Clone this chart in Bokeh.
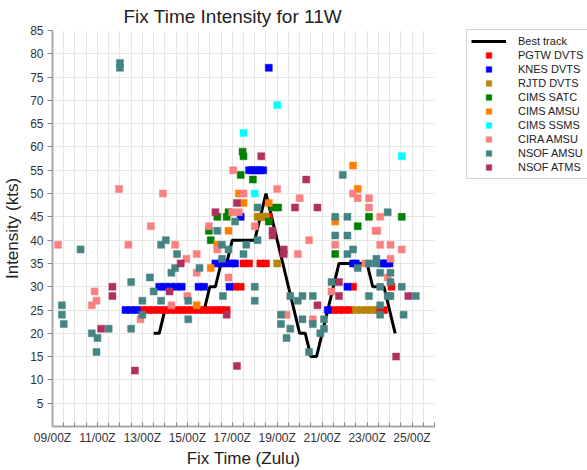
from bokeh.plotting import figure
from bokeh.models import FixedTicker, Legend, LegendItem, Range1d
from bokeh.embed import file_html
from bokeh.resources import INLINE

# ---------------- data (times as "DD/HH" Zulu, values in kts) ----------------
best_t = ["13/12", "13/18", "14/00", "14/06", "14/12", "14/18", "15/00", "15/06", "15/12", "15/18",
          "16/00", "16/06", "16/12", "16/18", "17/00", "17/06", "17/12", "17/18", "18/00", "18/06",
          "18/12", "18/18", "19/00", "19/06", "19/12", "19/18", "20/00", "20/06", "20/12", "20/18",
          "21/00", "21/06", "21/12", "21/18", "22/00", "22/06", "22/12", "22/18", "23/00", "23/06",
          "23/12", "23/18", "24/00", "24/06"]
best_v = [20, 20, 25, 25, 25, 25, 25, 25, 25, 25,
          30, 30, 35, 35, 40, 40, 40, 40, 40, 45,
          50, 45, 40, 35, 30, 25, 20, 20, 15, 15,
          20, 25, 30, 35, 35, 35, 35, 35, 35, 30,
          30, 30, 25, 20]

pgtw_t = ["13/00", "13/06", "13/12", "13/18", "14/00", "14/06", "14/12", "14/18", "15/00", "15/06",
          "15/12", "15/18", "16/00", "16/06", "16/12", "16/18", "17/03", "17/09", "17/12", "17/18",
          "18/06", "18/12", "18/15", "21/12", "21/18", "22/00", "22/06", "22/09", "23/12", "23/18",
          "24/02"]
pgtw_v = [25, 25, 25, 25, 25, 25, 25, 25, 25, 25,
          25, 25, 25, 25, 25, 25, 30, 30, 35, 35,
          35, 35, 45, 25, 25, 25, 25, 30, 25, 25,
          30]

knes_t = ["12/06", "12/12", "12/18", "13/18", "14/00", "14/06", "14/12", "14/18", "15/12", "15/18",
          "16/06", "16/12", "16/18", "17/00", "17/03", "16/21", "17/09", "17/18", "17/21", "18/00",
          "18/03", "18/06", "18/09", "18/15", "21/06", "22/03", "22/09", "22/12", "23/15", "23/18",
          "23/21", "24/00"]
knes_v = [25, 25, 25, 30, 30, 30, 30, 30, 30, 30,
          35, 35, 35, 35, 35, 30, 45, 55, 55, 55,
          55, 55, 55, 77, 25, 30, 35, 35, 35, 35,
          35, 35]

rjtd_t = ["18/03", "18/06", "18/09", "18/12", "19/00", "22/12", "22/18", "23/00", "23/06"]
rjtd_v = [45, 45, 45, 45, 35, 25, 25, 25, 25]

satc_t = ["15/23", "16/01", "16/08", "16/18", "16/20", "17/09", "17/11", "17/12", "17/22", "18/15",
          "18/19", "19/01", "21/14", "22/14", "23/02", "24/13"]
satc_v = [42, 40, 45, 45, 46, 54, 59, 58, 53, 44,
          47, 47, 37, 43, 45, 45]

camsu_t = ["15/10", "16/01", "16/08", "16/20", "17/07", "17/12", "18/15", "21/14", "22/09", "22/14"]
camsu_v = [26, 34, 39, 42, 50, 48, 48, 44, 56, 51]

ssms_t = ["17/12", "18/00", "19/00", "24/13"]
ssms_v = [63, 50, 69, 58]

cira_t = ["09/06", "10/18", "10/21", "10/23", "11/23", "12/09", "12/22", "13/09", "13/22", "14/07",
          "14/11", "14/23", "15/00", "15/10", "15/10", "15/23", "16/08", "16/20", "17/00", "17/01",
          "17/07", "17/12", "18/00", "19/00", "19/10", "19/22", "20/00", "20/10", "20/14", "21/10",
          "21/14", "22/09", "22/14", "22/22", "23/02", "23/02", "23/09", "23/11", "23/14", "23/14",
          "23/22", "24/01", "24/01", "24/13"]
cira_v = [39, 26, 29, 27, 51, 39, 23, 43, 50, 26,
          39, 36, 28, 37, 33, 43, 38, 32, 46, 55,
          46, 50, 43, 51, 24, 37, 49, 40, 23, 29,
          39, 50, 49, 35, 49, 47, 42, 42, 45, 39,
          32, 39, 36, 38]

nsofa_t = ["09/10", "09/10", "09/12", "10/06", "10/18", "10/23", "11/00", "11/12", "12/00", "12/00",
           "12/12", "12/12", "13/00", "13/00", "13/08", "13/12", "13/20", "13/20", "14/01", "14/07",
           "14/11", "14/13", "15/01", "15/01", "15/13", "16/08", "16/13", "16/13", "16/14", "16/20",
           "17/03", "17/12", "17/15", "18/00", "18/00", "18/03", "18/03", "19/04", "19/04", "19/10",
           "19/14", "19/14", "19/22", "20/03", "20/03", "20/10", "20/14", "20/14", "20/22", "21/02",
           "21/02", "21/10", "21/14", "21/14", "21/22", "22/03", "22/03", "22/03", "22/09", "22/14",
           "23/02", "23/02", "23/10", "23/10", "23/14", "23/14", "23/14", "23/14", "23/22", "23/22",
           "24/01", "24/01", "24/01", "24/13", "24/15", "25/04"]
nsofa_v = [26, 24, 22, 38, 20, 16, 19, 21, 78, 77,
           31, 21, 27, 24, 32, 29, 27, 39, 40, 33,
           34, 37, 27, 23, 34, 42, 39, 36, 28, 38,
           44, 37, 39, 30, 27, 47, 40, 24, 22, 19,
           21, 28, 27, 28, 23, 16, 28, 22, 20, 21,
           23, 31, 45, 41, 54, 45, 41, 37, 38, 34,
           35, 28, 36, 35, 33, 30, 26, 24, 46, 28,
           33, 31, 28, 30, 24, 28]

atms_t = ["11/04", "11/16", "11/16", "12/16", "14/05", "14/17", "16/06", "16/18", "17/05", "17/05",
          "18/07", "18/19", "18/19", "19/07", "19/07", "19/19", "20/07", "20/19", "20/19", "21/18",
          "21/18", "24/07", "24/20"]
atms_v = [21, 30, 28, 12, 29, 35, 46, 24, 48, 13,
          58, 42, 41, 38, 37, 47, 53, 47, 26, 31,
          28, 15, 28]

x_label_days = [9, 11, 13, 15, 17, 19, 21, 23, 25]
y_ticks = list(range(5, 90, 5))

series = [
    ("PGTW DVTS", "#ff0000", pgtw_t, pgtw_v),
    ("KNES DVTS", "#0000ff", knes_t, knes_v),
    ("RJTD DVTS", "#b8860b", rjtd_t, rjtd_v),
    ("CIMS SATC", "#008000", satc_t, satc_v),
    ("CIMS AMSU", "#ff8000", camsu_t, camsu_v),
    ("CIMS SSMS", "#00ffff", ssms_t, ssms_v),
    ("CIRA AMSU", "#fa8080", cira_t, cira_v),
    ("NSOF AMSU", "#468484", nsofa_t, nsofa_v),
    ("NSOF ATMS", "#b03060", atms_t, atms_v),
]


def tnum(s):
    d, h = s.split("/")
    return int(d) + int(h) / 24.0


FONT = "Liberation Sans"

p = figure(frame_width=382, frame_height=396,
           x_range=Range1d(9, 26), y_range=Range1d(0, 85),
           output_backend="svg", toolbar_location=None,
           min_border_left=45, min_border_right=0, min_border_top=22, min_border_bottom=36,
           title="Fix Time Intensity for 11W")
p.outline_line_color = None
p.background_fill_color = "white"
p.border_fill_color = "white"

p.title.align = "left"
p.title.offset = 71
p.title.standoff = 7
p.title.text_font = FONT
p.title.text_font_size = "19px"
p.title.text_font_style = "normal"
p.title.text_color = "#222222"

# axes
p.xaxis.ticker = FixedTicker(ticks=x_label_days, minor_ticks=[9 + 0.5 * i for i in range(35)])
p.xaxis.major_label_overrides = {d: "%02d/00Z" % d for d in x_label_days}
p.xaxis.axis_label = "Fix Time (Zulu)"
p.yaxis.ticker = FixedTicker(ticks=y_ticks)
p.yaxis.axis_label = "Intensity (kts)"

for ax in (p.xaxis[0], p.yaxis[0]):
    ax.axis_line_color = "#a8a8a8"
    ax.axis_line_width = 2
    ax.major_tick_line_color = "#888888"
    ax.minor_tick_line_color = "#888888"
    ax.major_label_text_font = FONT
    ax.major_label_text_font_size = "12px"
    ax.major_label_text_color = "#333333"
    ax.axis_label_text_font = FONT
    ax.axis_label_text_font_size = "17px"
    ax.axis_label_text_font_style = "normal"
    ax.axis_label_text_color = "#222222"

p.xaxis.major_tick_in = 4
p.xaxis.major_tick_out = 0
p.xaxis.minor_tick_in = 4
p.xaxis.minor_tick_out = 0
p.xaxis.major_label_standoff = 4
p.xaxis.axis_label_standoff = 1
p.yaxis.major_tick_in = 0
p.yaxis.major_tick_out = 5
p.yaxis.minor_tick_line_color = None
p.yaxis.major_label_standoff = 4
p.yaxis.axis_label_standoff = 5

p.xgrid.ticker = FixedTicker(ticks=[9 + 0.5 * i for i in range(35)])
p.ygrid.ticker = FixedTicker(ticks=list(range(0, 90, 5)))
p.xgrid.grid_line_color = "#e6e6e6"
p.ygrid.grid_line_color = "#e6e6e6"

items = []
r = p.line([tnum(t) for t in best_t], best_v, line_color="black", line_width=3)
items.append(LegendItem(label="Best track", renderers=[r]))
for name, col, ts, vs in series:
    r = p.scatter([tnum(t) for t in ts], vs, marker="square", size=7,
                  fill_color=col, line_color=col, line_width=0.5)
    items.append(LegendItem(label=name, renderers=[r]))

legend = Legend(items=items, location=(32, 247), margin=0)
legend.label_text_font = FONT
legend.label_text_font_size = "11px"
legend.label_text_color = "#222222"
legend.glyph_width = 35
legend.glyph_height = 14
legend.label_height = 14
legend.spacing = 0
legend.padding = 4
legend.label_standoff = 12
legend.border_line_color = "#aaaaaa"
legend.border_line_width = 1
legend.background_fill_color = "white"
legend.background_fill_alpha = 1
p.add_layout(legend, "right")
p.min_border_right = 0

open("out.html", "w").write(file_html(p, INLINE))
